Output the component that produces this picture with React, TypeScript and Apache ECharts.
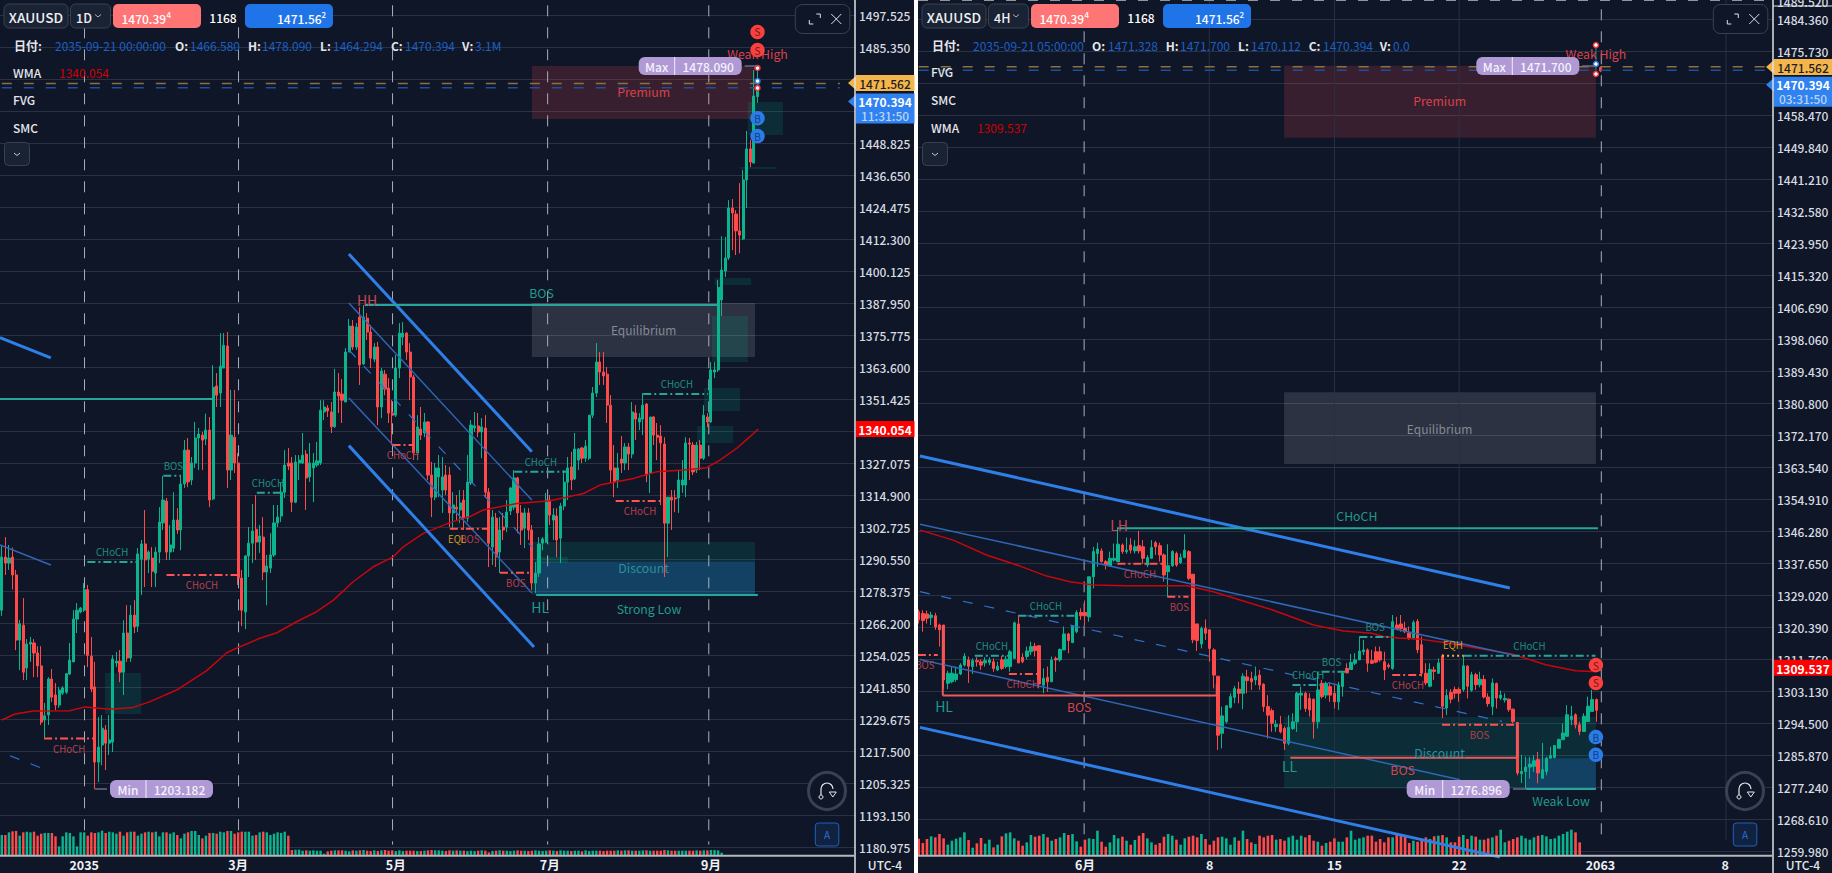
import React, { useEffect, useRef } from "react";
import * as echarts from "echarts";

// ---------- daily panel data: [open, close, low, high]
const dailyCandles: number[][] = [
[1271.2,1291.4,1269,1296],[1291.4,1289.1,1284.6,1299],[1289.1,1291,1286.5,1296],[1291.4,1284.6,1279,1295],[1284.6,1259.8,1256,1286.5],
[1259.8,1266,1248.4,1267.5],[1265.5,1247.6,1244.6,1275.8],[1249.2,1258.3,1244.6,1260.2],[1258.3,1259,1251.5,1261],[1258.7,1254.9,1245.7,1260.2],
[1254.9,1250,1245.7,1257.5],[1250,1228.6,1227.5,1257.5],[1229.4,1231,1222.5,1235.9],[1231.3,1245,1227.5,1245.7],[1245,1238.1,1236.2,1248.8],
[1238.9,1235.1,1233.2,1243.5],[1235.1,1240.8,1234,1242],[1239.6,1241.6,1238.9,1242.3],[1240,1247,1239.3,1247.3],[1246.9,1252.2,1246.5,1258.7],
[1251.5,1267.8,1251.5,1271.2],[1267.8,1271.2,1262.5,1273.9],[1270.5,1272,1270,1272.4],[1271.2,1279,1270.5,1281.5],[1279,1254,1249.5,1280.8],
[1253.7,1241.2,1240,1261],[1242,1213.4,1203.2,1251.5],[1213.4,1219.1,1205.8,1230.5],[1219.9,1226.3,1212.2,1231.3],[1225.6,1220.6,1210.4,1227.5],
[1220.6,1221.8,1216.1,1231.3],[1221,1252.6,1217.2,1254.1],[1251.1,1251.8,1249.5,1255.3],[1251.8,1247.6,1243.8,1256],[1247.6,1262.5,1238.9,1267.4],
[1262.5,1253,1251.5,1273.1],[1253,1269.3,1251.5,1273.1],[1269.3,1264.8,1262.5,1275],[1265.1,1292.6,1262.9,1294.8],[1290.6,1296.4,1277,1297.9],
[1296.4,1290.3,1280,1309.3],[1290.6,1293.3,1285.3,1294],[1291,1286,1280,1295.2],[1285.3,1293.3,1280,1295.2],[1293.3,1304.7,1289.1,1310.4],
[1304.4,1313.1,1301.7,1322.2],[1312.7,1293.3,1290.3,1313.9],[1293.3,1296,1290.3,1303.6],[1294.8,1305.5,1293.3,1316.1],[1305.5,1301.7,1300.2,1310],
[1301.7,1319.2,1294,1322.6],[1319.2,1332.1,1317.7,1335.9],[1332.1,1320,1318,1336.7],[1320.7,1327.2,1318.8,1329.5],[1327.2,1336.7,1325.3,1342.8],
[1336.7,1338.2,1324.5,1340.5],[1337.8,1335.9,1324.5,1339],[1336.3,1339.7,1334,1346],[1339.7,1313.1,1310.4,1344.7],[1313.5,1356,1313.1,1364.4],
[1356.5,1353,1348.5,1361.4],[1353.8,1364,1348.5,1376.6],[1363.3,1372,1363.3,1376.6],[1371.7,1324.5,1317.7,1377],[1324.5,1337.8,1320.7,1355],
[1337,1327.2,1323.4,1355],[1327.2,1283.4,1280.8,1331],[1283.4,1271.2,1265.1,1286.5],[1270.5,1291.8,1264,1292.2],[1291.8,1296.7,1283.8,1302.8],
[1296.7,1301.3,1289.1,1311.6],[1302,1297.1,1290.3,1315],[1297.1,1299.4,1293,1303.6],[1299,1285.7,1282.6,1306.6],[1285.7,1288,1273.1,1292.2],
[1287.2,1292.2,1285.3,1300.5],[1292.2,1304.4,1291.4,1311.2],[1304.4,1306.6,1302.8,1311.2],[1307,1316.1,1304.7,1319.6],[1316.1,1326.4,1313.9,1332.1],
[1327.2,1326,1324.5,1332.9],[1327.2,1312.3,1308.5,1329.5],[1312.3,1327.6,1311.9,1330.2],[1327.2,1328.3,1320.7,1330.2],[1327.2,1330.2,1326.8,1338.6],
[1330.6,1321.5,1309.3,1332.1],[1321.9,1327.2,1320,1334.8],[1325.3,1327.2,1312.3,1331],[1326.4,1328,1325.7,1335.2],[1327.2,1347.3,1326.4,1351.1],
[1346.6,1348.5,1343.5,1351.1],[1348.1,1347,1344.7,1349.2],[1346.6,1341,1338.6,1350.4],[1341,1354.2,1340.5,1363],[1354.2,1352.7,1346.2,1361.4],
[1353.4,1351.1,1342.4,1359.1],[1350.4,1369.4,1350.4,1370.9],[1369.4,1379.3,1369.4,1382],[1379.3,1371.3,1370.2,1381.6],[1371.3,1378.9,1370.2,1380.4],
[1382.7,1364.5,1356.9,1386.5],[1364.9,1382.7,1364.5,1387.3],[1382.3,1377,1374,1384.2],[1377,1367.1,1363.3,1379.7],[1366.7,1371.3,1365.6,1372.8],
[1371.3,1348.5,1341.6,1373.2],[1348.5,1362.2,1344.3,1363.3],[1361,1355.3,1353,1362.6],[1355.7,1346.2,1342.4,1359.5],[1346.2,1345.4,1334,1351.1],
[1345.4,1363.3,1344.7,1368.3],[1363.3,1376.6,1359.5,1380.4],[1375.1,1376.6,1372,1380.8],[1376.6,1369.4,1366.4,1377],[1369.4,1359.9,1351.1,1372.8],
[1359.9,1331,1328.3,1360.7],[1331,1340.9,1328.3,1345.4],[1340.1,1337.8,1335.9,1348.5],[1338.6,1342.8,1337,1346.2],[1342.8,1322.6,1320.7,1343.2],
[1322.6,1314.2,1306.6,1327.6],[1314.2,1325.3,1313.1,1327.2],[1321.9,1325.3,1314.2,1330.2],[1316.9,1321.9,1308.2,1329.5],[1322.6,1316.9,1315,1326.4],
[1322.6,1308.2,1302.8,1325.7],[1308.2,1311.2,1301.7,1316.1],[1310.4,1309.7,1305.5,1315],[1309.3,1312,1304.4,1316.9],[1313.1,1306.2,1301.7,1316.9],
[1306.2,1319.9,1304.7,1330.2],[1319.6,1341.6,1318.8,1343.5],[1340.5,1341.3,1339,1346.6],[1341.3,1339,1337,1346.2],[1339,1340.9,1329,1344.3],
[1340.5,1316.1,1313.9,1345.4],[1316.1,1296.7,1287.6,1317.7],[1295.2,1306.6,1288.4,1309.3],[1306.2,1291.4,1287.6,1308.2],[1293.3,1301.7,1285.3,1306.6],
[1302.8,1301.7,1297.9,1308.2],[1302.8,1308.5,1300.9,1313.1],[1308.9,1317.7,1307.4,1318],[1310.4,1321.5,1309.3,1324.5],[1321.5,1308.2,1300.5,1321.9],
[1308.2,1301.7,1296,1311.2],[1302.4,1308.2,1294.8,1310],[1308.2,1301.7,1297.9,1310],[1301.7,1281.5,1278.8,1303.6],[1281.5,1285.3,1277.7,1289.5],
[1285.3,1296.4,1283.8,1299],[1296.7,1298.3,1294,1299],[1297.1,1313.1,1296.7,1315.8],[1313.1,1307.4,1303.6,1315],[1305.5,1307.4,1297.9,1310],
[1307,1297.9,1291.4,1310],[1298.6,1310.8,1289.1,1312],[1310.8,1319.9,1309.3,1324.5],[1319.9,1325.3,1313.1,1329.5],[1325.7,1320.7,1316.9,1331.4],
[1321.1,1332.5,1320.7,1338.6],[1328.3,1332.5,1324.5,1332.9],[1332.9,1329,1327.2,1333.3],[1329,1333.6,1327.6,1335.9],[1329,1345.4,1328.3,1345.4],
[1345.4,1353.8,1344.3,1356.1],[1353.8,1365.6,1352.3,1372.8],[1365.6,1361.8,1356.9,1369.4],[1361.8,1360.3,1356.9,1369.4],[1361,1349.2,1342.4,1363.7],
[1349.2,1324.5,1319.6,1353],[1325.3,1319.9,1314.2,1334],[1320.7,1325.3,1317.7,1331],[1328.7,1327.2,1323.4,1337.4],[1327.2,1333.3,1324.5,1334.8],
[1333.3,1330.6,1324.5,1334.8],[1330.6,1346.6,1329,1350.4],[1346.2,1343.9,1335.9,1349.2],[1342.8,1344.3,1339.7,1346.2],[1343.9,1349.2,1337.8,1353.8],
[1349.6,1322.6,1319.9,1350],[1323.4,1344.7,1315.8,1344.7],[1344.7,1337.8,1334,1345],[1337.8,1337,1328.3,1342.4],[1337.4,1334.8,1311.2,1341.6],
[1334.4,1304.3,1283.8,1337],[1304.3,1314.2,1291.4,1314.2],[1314.2,1313.1,1301.7,1316.9],[1313.9,1313.5,1308.5,1316.9],[1313.9,1320.7,1308.2,1324.5],
[1318.8,1320.7,1315.8,1328.3],[1318.8,1334.8,1314.2,1337],[1334.8,1334.4,1320.7,1336.7],[1334,1323.8,1322.6,1335.2],[1324.5,1334,1323.4,1335.2],
[1334,1329,1324.5,1335.9],[1329,1345.4,1328.3,1349.2],[1344.7,1342.8,1340.9,1346.2],[1342.8,1362.6,1342.4,1365.6],[1361.8,1362.6,1359.5,1365.6],
[1362.6,1394.1,1361.8,1396.8],[1389.2,1400.6,1383.1,1413.5],[1400.2,1405.2,1398,1413.2],[1405.2,1424.2,1404.4,1427.2],[1424.2,1422.3,1408.2,1427.6],
[1421.9,1415.5,1406.3,1423.4],[1415.5,1413.9,1407,1433.7],[1412.4,1434.9,1412,1438.7],[1434.9,1446.7,1424.2,1453.5],[1446.7,1441.7,1439.8,1450.1],
[1441.3,1466.8,1441.3,1476.7],[1466.58,1470.394,1464.294,1478.09],
];
const dailyVolumes: number[] = [
62,62,70,73,74,60,70,72,70,72,60,66,68,68,68,58,28,58,70,68,58,28,70,70,60,70,68,70,75,68,72,70,66,72,60,70,72,72,60,66,
70,72,70,72,58,70,70,66,70,62,52,66,70,74,74,62,52,60,68,68,66,72,70,74,74,66,70,72,72,72,60,62,70,72,70,62,66,70,68,72,60,
17,18,18,15,16,15,16,15,15,6,13,15,16,16,16,15,13,16,15,16,17,15,14,16,14,16,17,15,16,14,16,14,15,15,15,14,14,15,16,17,
16,16,15,14,16,15,16,15,15,14,15,14,15,16,15,10,14,15,16,15,15,14,15,16,15,15,14,15,16,15,14,15,16,15,14,16,15,15,14,15,
15,13,16,14,15,15,15,14,15,15,15,16,15,16,16,15,15,15,16,16,15,15,15,15,17,16,15,15,15,15,15,15,15,16,15,16,16,17,17,16,9,
];
const dailyWma: number[][] = [
[0,1229.4],[3.7,1231.7],[8.8,1232.8],[19,1232.9],[23.2,1234.4],[25.6,1234.1],[30.2,1233.5],[36.7,1234.2],[41.4,1236.4],[48.8,1240.8],
[57.2,1248.2],[62.8,1255],[66.5,1257.3],[72.1,1260.5],[76.8,1262.6],[82.3,1266.8],[87.9,1270.6],[92.6,1275],[98.1,1282],[103.7,1287.7],
[109.3,1291.5],[112.1,1295.3],[117.7,1300.4],[125.1,1304.5],[130.7,1306.8],[134.4,1309.3],[143.8,1311.8],[153.1,1312.8],[162.4,1315.6],[167,1318.8],
[176.3,1321.3],[182.9,1323.9],[190.3,1324.5],[196.8,1325.4],[200.5,1328.3],[205.2,1332.8],[208.9,1337.2],[211.2,1340.1],
];
// [from bar, top price, to bar, bottom price]
const dailyPremium = [[148,1478.2,210.3,1458.1]];
const dailyEquilibrium = [[148,1388.1,210.3,1367.5]];
const dailyDiscount = [[148,1297.1,210.3,1277]];
const dailyDiscountBlue = [[149.2,1289.6,210.3,1277]];
const dailyFvg = [[28.8,1247.3,38.9,1231.7],[198.3,1383.1,208.3,1365.6],[196.1,1355.7,206.1,1347],[194.1,1341.3,204.2,1334.8],[149.2,1291.4,158.1,1289.1],[208.3,1464.5,218.1,1452],[199.1,1397.6,209.2,1394.9],[206.1,1439.8,216.2,1439]];
// [from bar, from price, to bar, to price]
const dailyTealSolid = [[-0.5,1351.5,59,1351.5],[101.4,1387.3,200,1387.3],[149.2,1277,211.1,1277]];
const dailyChannelThick = [[-0.5,1374.9,13.7,1367.2],[96.9,1406.7,148,1331.5],[96.9,1333.8,148.6,1257.2]];
const dailyChannelThin = [[96.9,1388.1,148,1313.1],[96.9,1351.9,148,1277.7],[-0.5,1296,13.7,1288.4]];
const dailyChannelDash = [[96.9,1370.2,148,1295.3],[2.3,1215.8,10.9,1211.2]];
const dailyTealDash = [[23.9,1289.5,37.7,1289.5],[45.1,1322.3,50,1322.3],[71.2,1315.9,78.5,1315.9],[143.1,1323.9,157.8,1323.9],[179.1,1353.4,197.2,1353.4]];
const dailyRedDash = [[46,1284.6,66,1284.6],[11.8,1222.4,25.5,1222.4],[109.1,1334,115.1,1334],[125.1,1302.2,136.3,1302.2],[139.1,1285.4,148,1285.4],[171.4,1312.7,185.2,1312.7]];
const dailyOrangeDash: number[][] = [];
const dailyRedSolid: number[][] = [];
const dailyTealSmall: any[][] = [[30.8,1293.3,"CHoCH"],[47.9,1326,"BOS"],[74.3,1319.6,"CHoCH"],[150.5,1327.6,"CHoCH"],[188.5,1357.2,"CHoCH"]];
const dailyRedSmall: any[][] = [[55.9,1280.8,"CHoCH"],[18.8,1218.5,"CHoCH"],[112,1330.2,"CHoCH"],[130.7,1298.4,"BOS"],[143.5,1281.5,"BOS"],[178.2,1308.9,"CHoCH"]];
const dailyOrangeSmall: any[][] = [[127.1,1298.4,"EQL"]];
const dailyRedBig: any[][] = [[179.2,1468.3,"Premium"],[211,1482.8,"Weak High"]];
const dailyRedPivot: any[][] = [[102,1389.2,"HH"]];
const dailyTealBig: any[][] = [[150.7,1392,"BOS"],[180.7,1271.6,"Strong Low"]];
const dailyTealPivot: any[][] = [[150.3,1272.4,"HL"]];
const dailyZoneLabels: any[][] = [[179.2,1377.8,"Equilibrium"]];
const dailyDiscountLabels: any[][] = [[179.2,1287.2,"Discount"]];
const dailySells = [[211,1491.2],[211,1484.3]];
const dailyBuys = [[211,1458.4],[211,1451.6]];
const dailyRedDots = [[211,1477.5],[211,1469.9]];
const dailyBlueDots = [[211,1472.5]];
const dailyDashBars = [23.1,66.1,109.1,152.4,197.4];
const dailySolidBars: number[] = [];
const dailyTicks: Record<number,string> = { 23:"2035", 66:"3月", 110:"5月", 153:"7月", 198:"9月" };

// ---------- 4H panel data: [open, close, low, high]
const h4Candles: number[][] = [
[1324.6,1322.4,1321.4,1325.2],[1324.1,1322.2,1319.2,1325],[1324,1322.8,1321.4,1324.9],[1323,1323.7,1321,1324.6],[1323.5,1320.5,1319.7,1324.3],
[1321,1319.7,1315.2,1321.4],[1321,1306.2,1303.9,1321],[1305.3,1308,1303.7,1308.7],[1305.7,1308,1305.3,1309.8],[1306.3,1307.8,1305.7,1309.8],
[1307.8,1310.2,1307.5,1310.7],[1310.2,1312.6,1309.8,1313.4],[1311.6,1309.9,1305.4,1312.5],[1309.8,1311.4,1307.8,1312],[1311.4,1311.1,1309.8,1312.3],
[1311.1,1310.2,1308.9,1311.7],[1310.8,1311.4,1309.8,1312.3],[1310.9,1311.6,1310.2,1312.3],[1311.1,1309.3,1308.4,1312],[1308.9,1309.9,1308.6,1311.1],
[1311.6,1309.3,1308.9,1312.6],[1309.8,1311.8,1309.3,1312.7],[1309.8,1313.8,1308.4,1314.3],[1312,1321.6,1312,1321.9],[1321.3,1310.8,1310.7,1323.7],
[1312.3,1311.1,1310.7,1313.4],[1312.5,1314,1311.7,1315.2],[1313.8,1315.2,1312.9,1316.5],[1315.3,1314.1,1312.5,1316.2],[1315.4,1305.1,1303.9,1315.6],
[1304.8,1306.6,1302.6,1309.3],[1306.9,1305.7,1303,1309.8],[1305.7,1311.6,1305.7,1312.5],[1312,1311.6,1308.4,1312.5],[1311.6,1314.4,1311.1,1314.7],
[1314.3,1318.6,1314.3,1320.6],[1318.6,1316.8,1313.4,1318.9],[1316.3,1320.6,1316.1,1321],[1319.2,1324.4,1318.8,1325],[1324.4,1323.5,1322.4,1325.5],
[1324.4,1323.5,1321,1327.6],[1323.2,1334,1321.9,1334],[1334,1340.8,1330.9,1342.1],[1340.3,1341.5,1336.7,1343.2],[1341,1338.1,1337.9,1341.7],
[1338.1,1337.2,1336,1338.5],[1336.9,1339,1336.7,1340.8],[1338.5,1339,1338.1,1343],[1338.1,1342.8,1338.1,1347.1],[1342.6,1340.8,1340.2,1343],
[1340.8,1341.2,1340.2,1344.6],[1342.6,1341.2,1340.3,1344.4],[1341,1342.1,1340.3,1343.9],[1342.4,1341,1340.3,1346.4],[1342.1,1339,1337.5,1343.9],
[1337.2,1339.2,1336.6,1339.9],[1339,1341.9,1339,1343.9],[1343.2,1342.1,1339.9,1343.7],[1342.4,1339.9,1338.1,1343.2],[1339.9,1334.5,1332.7,1340.3],
[1335.4,1337,1328.6,1342.8],[1337,1340.8,1336.7,1341.2],[1340.3,1337.2,1336.7,1340.8],[1337.8,1339.2,1337.5,1340.3],[1339.2,1341.2,1339,1345.5],
[1340.8,1333.6,1333.1,1341.2],[1334.7,1317,1316.1,1334.7],[1321.3,1316.8,1314,1321.3],[1315.9,1320.1,1314.7,1320.6],[1320.1,1318.8,1317,1322.5],
[1319.7,1314.7,1311.1,1319.8],[1314.3,1307.5,1303.9,1314.7],[1307.2,1291.3,1287.3,1307.2],[1291.8,1296.5,1287.7,1299],[1294.9,1299.2,1294.5,1299.4],
[1298.8,1301.7,1298.5,1302.6],[1301.5,1303.9,1299.9,1304.6],[1303.7,1302.6,1299.9,1305.7],[1302.6,1307.2,1298.3,1308],[1307,1306,1302.6,1308.9],
[1306.6,1305.7,1303.5,1308.4],[1306.2,1307.2,1304.8,1309.8],[1307.5,1304.8,1303.5,1308.9],[1305,1299,1297.6,1305.3],[1299,1296.7,1290.4,1302.1],
[1297.9,1294.5,1292.2,1298.5],[1293.6,1294.2,1292.2,1295.4],[1294.2,1292.2,1291.8,1296.5],[1293.1,1289.1,1287.3,1293.6],[1289.1,1293.4,1288.6,1296.7],
[1293.1,1294.9,1292.7,1297.2],[1294.9,1302.6,1292.2,1303],[1302.1,1302.6,1298.1,1304.4],[1302.6,1298.5,1297.6,1303],[1301.2,1298.1,1296.3,1302.6],
[1301,1294.9,1290.4,1301.2],[1294.9,1303.5,1293.1,1308.4],[1305.3,1301.7,1301.2,1306.2],[1302.1,1305.3,1301.2,1305.7],[1304.4,1302.1,1300.3,1305.3],
[1302.6,1300.3,1298.5,1304.8],[1300.3,1304.8,1298.1,1305.7],[1304.4,1308,1301.7,1308.4],[1309.3,1308.1,1308,1310.7],[1309,1310.9,1308.9,1313.2],
[1310.7,1311.6,1310.2,1313.4],[1311.6,1314,1311.6,1317.9],[1313.8,1314.3,1312.9,1317],[1314.3,1310.7,1308.4,1314.7],[1311.4,1310.7,1310.5,1314.3],
[1313.8,1311,1310.7,1315.2],[1313.8,1311.6,1311.1,1315.2],[1311.1,1308.9,1306.2,1313.8],[1310.2,1309.8,1309.3,1310.7],[1309.3,1321.9,1308.9,1323.7],
[1321,1320.1,1319.7,1323.2],[1321.3,1320.1,1319.2,1323.7],[1320.1,1319.2,1318.8,1321.9],[1318.8,1317.4,1317,1320.6],[1317.5,1321.7,1317.1,1322.3],
[1322,1314.3,1313.4,1322.6],[1315.7,1308,1307.1,1317.9],[1308,1305.4,1304.8,1310.7],[1304.5,1309,1304.2,1310.7],[1308.9,1308.5,1306.2,1309.8],
[1308,1310.8,1307.8,1312],[1312.7,1299.1,1295.9,1313.2],[1298.6,1302,1296.7,1303.7],[1302.8,1301,1299.9,1303.7],[1303.6,1302.6,1301.2,1304.4],
[1303.6,1302.6,1300.3,1304.2],[1303.6,1310,1303,1312.7],[1309.9,1304.5,1301.2,1310.2],[1303.4,1307.6,1303,1308.4],[1307.6,1304.9,1303.5,1308.1],
[1304.9,1306.4,1304.2,1308.4],[1306.3,1301.6,1301.2,1307.5],[1301.6,1299.8,1299,1302.6],[1299,1305.4,1296.7,1306.6],[1305.2,1301.3,1298.5,1305.5],
[1301.3,1302.1,1300.8,1303.3],[1300.8,1301.2,1300.1,1302.6],[1301,1298.2,1297.6,1301.2],[1298.3,1295,1294.5,1298.5],[1294.7,1281.1,1280.5,1294.7],
[1280.9,1281.5,1278.4,1286],[1281.5,1282.7,1276.9,1285.5],[1282.7,1283.5,1279.6,1285.5],[1282.9,1284.4,1281.4,1285.9],[1284.7,1281.1,1278.3,1286.8],
[1279.7,1282,1279.6,1289.2],[1281.5,1285.1,1280.5,1285.5],[1285.1,1285.8,1285,1288.2],[1285.3,1288.5,1285,1288.6],[1287.8,1290.1,1287.7,1290.4],
[1290.1,1291.9,1290,1294.5],[1291,1296.8,1290.9,1299.4],[1295.5,1296.4,1294,1299.2],[1296.8,1294.1,1293.1,1297.2],[1294.1,1292.3,1291.3,1294.9],
[1292.3,1296.4,1292.2,1297.2],[1295,1299.1,1294.9,1301.7],[1297.7,1300.9,1297.6,1303.5],[1300.9,1298,1294.9,1301.2],[1471.328,1470.394,1470.112,1471.7],
];
const h4Volumes: number[] = [
51,38,50,58,55,65,52,33,45,51,55,70,47,24,37,53,36,48,25,33,58,67,70,52,45,30,40,62,57,60,65,55,45,50,55,68,62,65,43,27,
48,52,50,75,42,27,40,62,52,57,45,33,47,60,68,52,40,33,38,57,65,60,48,33,52,57,60,55,65,50,33,45,55,57,52,33,55,45,75,50,
40,35,60,55,60,62,48,50,45,55,60,48,60,55,62,45,42,30,38,42,52,42,42,55,75,48,52,55,60,60,42,50,40,55,55,62,60,58,38,45,
42,50,55,50,58,60,62,55,40,40,57,62,50,60,57,48,48,52,55,60,78,40,45,50,55,60,52,48,55,60,62,58,50,52,60,65,72,78,70,40,0,
];
const h4Wma: number[][] = [
[0.3,1346.6],[8.3,1343.9],[16.3,1339.9],[24.4,1336.9],[30.8,1334.2],[36.4,1332.7],[42,1331.8],[50,1331.6],[64.5,1331.6],[70.9,1330],
[76.5,1328],[85.3,1325],[95,1321],[102.2,1319.4],[109,1318.8],[111.8,1317.9],[115.5,1317.5],[120.6,1317.2],[126.7,1316.2],[142.7,1313.2],
[150.8,1310.3],[158,1308.7],[163.2,1308.4],
];
const h4Premium = [[87.9,1471.8,162.9,1452.4]];
const h4Equilibrium = [[87.9,1383.8,162.9,1364.4]];
const h4Discount = [[87.9,1296.2,162.9,1276.9]];
const h4DiscountBlue = [[146.1,1285.1,162.9,1276.9]];
const h4Fvg: number[][] = [];
const h4TealSolid = [[47.7,1347.1,163.4,1347.1],[146.1,1276.8,162.9,1276.8]];
const h4RedSolid = [[5.8,1320.9,5.8,1302],[5.8,1302,71.7,1302],[71.7,1302,71.7,1305],[89.4,1285.2,143.9,1285.2],[143.9,1285.2,143.9,1294.7]];
const h4ChannelThick = [[0.3,1366.6,142.2,1331],[0.3,1293.4,139.8,1258.4]];
const h4ChannelThin = [[0.3,1348.2,142.7,1313],[0.3,1311.7,130.2,1279.3]];
const h4ChannelDash = [[0.3,1330,140.3,1295]];
const h4TealDash = [[24,1323.5,37.6,1323.5],[13.5,1312.7,21.6,1312.7],[89.9,1304.8,96.9,1304.8],[96.9,1308.4,103,1308.4],[106,1317.8,113.9,1317.8],[131.1,1312.7,162.8,1312.7]];
const h4RedDash = [[21.7,1307.8,28.8,1307.8],[-0.2,1312.9,4.6,1312.9],[47.8,1337.5,58.8,1337.5],[59.8,1328.6,64.9,1328.6],[113.9,1307.5,121.1,1307.5],[125.9,1294.1,143.9,1294.1]];
const h4OrangeDash = [[125.9,1312.7,131.1,1312.7]];
const h4TealSmall: any[][] = [[30.6,1326.2,"CHoCH"],[17.6,1315.4,"CHoCH"],[93.7,1307.5,"CHoCH"],[99.3,1311.1,"BOS"],[109.8,1320.5,"BOS"],[146.9,1315.4,"CHoCH"]];
const h4RedSmall: any[][] = [[25,1305.1,"CHoCH"],[1.5,1310.2,"BOS"],[53.2,1334.8,"CHoCH"],[62.7,1325.9,"BOS"],[117.7,1304.8,"CHoCH"],[134.9,1291.4,"BOS"]];
const h4OrangeSmall: any[][] = [[128.5,1315.6,"EQH"]];
const h4RedBig: any[][] = [[125.3,1462.2,"Premium"],[162.9,1475,"Weak High"],[38.6,1298.9,"BOS"],[116.4,1282,"BOS"]];
const h4RedPivot: any[][] = [[48.2,1348,"LH"]];
const h4TealBig: any[][] = [[105.4,1350.5,"CHoCH"],[154.5,1273.6,"Weak Low"]];
const h4TealPivot: any[][] = [[6.1,1299.2,"HL"],[89.2,1283,"LL"]];
const h4ZoneLabels: any[][] = [[125.3,1374.1,"Equilibrium"]];
const h4DiscountLabels: any[][] = [[125.3,1286.5,"Discount"]];
const h4Sells = [[162.9,1310.2],[162.9,1305.4]];
const h4Buys = [[162.9,1290.8],[162.9,1286]];
const h4RedDots = [[162.9,1477.4],[162.9,1469.6]];
const h4BlueDots = [[162.9,1472.3]];
const h4SignalStem = [[162.9,1477.4,162.9,1469.6]];
const h4DashBars = [39.8,164.2];
const h4SolidBars = [69.9,100,130,194.2];
const h4Ticks: Record<number,string> = { 40:"6月", 70:"8", 100:"15", 130:"22", 164:"2063", 194:"8" };

const dailyAxis = { min: 1168.8, max: 1509.7, interval: 12.175 };
const h4Axis = { min: 1251.35, max: 1492.99, interval: 8.63 };
const askPrice = 1471.562;
const bidPrice = 1470.394;

const BG = "#0f1628";
const GRID = "#2a3142";
const UP = "#0bb48d";
const DOWN = "#ff4a4a";
const TEAL = "#26a69a";
const FONT = "'Noto Sans CJK SC','Noto Sans',sans-serif";

const segs = (rows: number[][], base: any, x: number, y: number, z = 5) =>
  rows.map((r) => ({
    type: "line", xAxisIndex: x, yAxisIndex: y, data: [[r[0], r[1]], [r[2], r[3]]],
    showSymbol: false, silent: true, z, lineStyle: base, animation: false,
  }));
const rects = (rows: number[][], fill: string, x: number, y: number, z = 1) => ({
  type: "custom", xAxisIndex: x, yAxisIndex: y, silent: true, z,
  encode: { x: [0, 2], y: [1, 3] }, data: rows,
  renderItem: (_: any, api: any) => {
    const a = api.coord([api.value(0), api.value(1)]);
    const b = api.coord([api.value(2), api.value(3)]);
    return { type: "rect", shape: { x: a[0], y: a[1], width: b[0] - a[0], height: b[1] - a[1] }, style: { fill } };
  },
});
const labels = (rows: any[][], color: string, size: number, x: number, y: number) => ({
  type: "scatter", xAxisIndex: x, yAxisIndex: y, symbolSize: 1, silent: true, z: 7, clip: false,
  itemStyle: { color: "transparent", opacity: 1 }, data: rows,
  label: { show: true, position: "inside", formatter: (p: any) => p.value[2], color, opacity: 1, fontSize: size, fontFamily: FONT },
  labelLayout: { hideOverlap: false },
});
const marks = (rows: number[][], color: string, text: string, ink: string, x: number, y: number) => ({
  type: "scatter", xAxisIndex: x, yAxisIndex: y, symbol: "circle", symbolSize: 14.5, silent: true, z: 8,
  itemStyle: { color, opacity: 1 }, data: rows,
  label: { show: true, position: "inside", formatter: text, color: ink, opacity: 1, fontSize: 10, fontFamily: FONT },
});
const dots = (rows: number[][], color: string, x: number, y: number) => ({
  type: "scatter", xAxisIndex: x, yAxisIndex: y, symbolSize: 5, silent: true, z: 9,
  itemStyle: { color: "#fff", borderColor: color, borderWidth: 1.5, opacity: 1 }, data: rows,
});

function panel(d: any, cat: number, over: number, volX: number, py: number, volY: number) {
  const volumeData = d.volumes.map((v: number, i: number) => ({
    value: v,
    itemStyle: { color: d.candles[i] && d.candles[i][1] >= d.candles[i][0] ? UP : DOWN },
  }));
  const vert = (bars: number[], top: number, bottom: number) => bars.map((b) => [b, top, b, bottom]);
  return [
    ...segs(vert(d.dash, d.axis.max, d.dashEnd), { color: "#a9aeb8", width: 1, type: [11, 11] }, over, py, 1),
    ...segs(vert(d.solid, d.axis.max, d.dashEnd), { color: GRID, width: 1 }, over, py, 1),
    rects(d.premium, "rgba(220,70,75,0.2)", over, py),
    rects(d.equilibrium, "rgba(255,255,255,0.12)", over, py),
    rects(d.discount, "rgba(0,170,140,0.16)", over, py),
    rects(d.discountBlue, "rgba(35,120,215,0.28)", over, py),
    rects(d.fvg, "rgba(0,180,140,0.15)", over, py),
    {
      type: "candlestick", xAxisIndex: cat, yAxisIndex: py, data: d.candles, barWidth: d.barWidth, z: 3, silent: true,
      itemStyle: { color: UP, color0: DOWN, borderColor: UP, borderColor0: DOWN, borderWidth: 1 },
    },
    {
      type: "line", xAxisIndex: over, yAxisIndex: py, data: d.wma, showSymbol: false, silent: true, z: 4,
      lineStyle: { color: "#c8060c", width: 1.5 },
    },
    ...segs([[0, askPrice, d.last, askPrice]], { color: "#8d713c", width: 1.5, type: [10, 12] }, over, py, 4),
    ...segs([[0, bidPrice + d.bidShift, d.last, bidPrice + d.bidShift]], { color: "#1f4f96", width: 1.5, type: [10, 12] }, over, py, 4),
    ...segs(d.thick, { color: "#2f7fe8", width: 3 }, over, py),
    ...segs(d.thin, { color: "#2f66b5", width: 1.5 }, over, py),
    ...segs(d.chanDash, { color: "#2f72cc", width: 1.2, type: [10, 12] }, over, py),
    ...segs(d.tealSolid, { color: TEAL, width: 2 }, over, py),
    ...segs(d.redSolid, { color: "#ee5a5a", width: 2 }, over, py),
    ...segs(d.tealDash, { color: TEAL, width: 2, type: [8, 3, 2, 3] }, over, py),
    ...segs(d.redDash, { color: "#ff5252", width: 2, type: [8, 3, 2, 3] }, over, py),
    ...segs(d.orangeDash, { color: "#f0b040", width: 2, type: [2, 3] }, over, py),
    ...segs(d.stem, { color: "#0d6d5a", width: 1.5 }, over, py, 6),
    labels(d.tealSmall, "#1f8f82", 9.7, over, py),
    labels(d.redSmall, "#b8404a", 9.7, over, py),
    labels(d.orangeSmall, "#d99a20", 9.7, over, py),
    labels(d.redBig, "#d9424a", 12.3, over, py),
    labels(d.tealBig, "#1f9a8c", 12.3, over, py),
    labels(d.redPivot, "#c84850", 14, over, py),
    labels(d.tealPivot, "#1f9a8c", 14, over, py),
    labels(d.zones, "#858a96", 12, over, py),
    labels(d.discountText, "#2a8f9c", 12.3, over, py),
    marks(d.sells, "#f8403e", "S", "#7a1515", over, py),
    marks(d.buys, "#2b7ce9", "B", "#0f3f80", over, py),
    dots(d.redDots, "#f5303a", over, py),
    dots(d.blueDots, "#2b7ce9", over, py),
    {
      type: "bar", xAxisIndex: volX, yAxisIndex: volY, data: volumeData, barWidth: d.volWidth, silent: true, z: 2,
    },
  ];
}

const txt = (text: string, x: number, y: number, fill: string, fontSize = 12, fontWeight: any = 400, textAlign = "left") => ({
  type: "text", z: 100, silent: true,
  style: { text, x, y, fill, fontSize, fontWeight, fontFamily: FONT, textAlign, textVerticalAlign: "middle" },
});
const box = (x: number, y: number, width: number, height: number, fill: string, stroke?: string, r = 3) => ({
  type: "rect", z: 99, silent: true, shape: { x, y, width, height, r }, style: { fill, stroke: stroke || "none", lineWidth: 1 },
});
const seg = (x1: number, y1: number, x2: number, y2: number, stroke: string, lineWidth = 1) => ({
  type: "line", z: 100, silent: true, shape: { x1, y1, x2, y2 }, style: { stroke, lineWidth },
});
const tag = (x: number, y: number, w: number, h: number, fill: string, cy: number) => ({
  type: "polygon", z: 99, silent: true,
  shape: { points: [[x - 8, cy], [x, cy - 7], [x, y], [x + w, y], [x + w, y + h], [x, y + h], [x, cy + 7]] }, style: { fill },
});

function ui(o: any) {
  const { off, tf, rows, date, ohlc, wmaY, fvgY, smcY, wmaVal, btnY, ax, ask, bid, bidH, wmaTag, timer, iconX, maxTag, minTag } = o;
  const els: any[] = [
    box(off + 4, 4, 64, 24, "#1a2333", "#38424f", 5),
    txt("XAUUSD", off + 36, 17, "#eef0f4", 13.7, 500, "center"),
    box(off + 70.5, 4, 40, 24, "#1a2333", "#38424f", 5),
    txt(tf, off + 76, 17, "#eef0f4", 12.5, 500),
    seg(off + 95, 14.5, off + 98, 17, "#aab0ba"), seg(off + 98, 17, off + 101, 14.5, "#aab0ba"),
    box(off + 113, 4, 88, 24, "#ff7474", undefined, 5),
    box(off + 245, 4, 88, 24, "#1f74e8", undefined, 5),
    box(off + 201.5, 5, 43.5, 22, "#0f1628", undefined, 0),
    txt("1470.39", off + 121.5, 18, "#fff", 12, 500),
    txt("4", off + 166.5, 14.5, "#fff", 8, 500),
    txt("1168", off + 223, 17.5, "#fff", 12, 500, "center"),
    txt("1471.56", off + 277, 18, "#fff", 12, 500),
    txt("2", off + 321.5, 14.5, "#fff", 8, 500),
    txt("日付:", off + 14, 45.5, "#e4e6ea", 12, 700),
    txt(date, off + 55, 45.5, "#1c60c4", 12),
    ...rows.map((r: any) => txt(r[0], off + r[1], 45.5, "#e4e6ea", 12, 700)),
    ...ohlc.map((r: any) => txt(r[0], off + r[1], 45.5, "#1c60c4", 12)),
    txt("WMA", off + 13, wmaY, "#e4e6ea", 12, 500),
    txt(wmaVal, off + 59, wmaY, "#d00000", 12),
    txt("FVG", off + 13, fvgY, "#e4e6ea", 12, 500),
    txt("SMC", off + 13, smcY, "#e4e6ea", 12, 500),
    box(off + 4.5, btnY, 25, 23, "#1a2333", "#38424f", 4),
    seg(off + 14, btnY + 10.5, off + 17, btnY + 13, "#c5c9d0"), seg(off + 17, btnY + 13, off + 20, btnY + 10.5, "#c5c9d0"),
    // expand / close
    box(iconX, 4.5, 54.5, 29, BG, "#38424f", 7),
    seg(iconX + 14, 24, iconX + 14, 20, "#e0e3e8"), seg(iconX + 14, 24, iconX + 18, 24, "#e0e3e8"),
    seg(iconX + 25, 14, iconX + 25, 18, "#e0e3e8"), seg(iconX + 21, 14, iconX + 25, 14, "#e0e3e8"),
    seg(iconX + 36, 14, iconX + 46, 24, "#e0e3e8"), seg(iconX + 46, 14, iconX + 36, 24, "#e0e3e8"),
    // replay button
    { type: "circle", z: 99, silent: true, shape: { cx: iconX + 31.7, cy: 791, r: 18.5 }, style: { fill: BG, stroke: "#394253", lineWidth: 3 } },
    { type: "arc", z: 100, silent: true, shape: { cx: iconX + 31.7, cy: 789, r: 6, startAngle: Math.PI, endAngle: 0 }, style: { stroke: "#e6e8ec", fill: "none", lineWidth: 1.2 } },
    seg(iconX + 25.7, 789, iconX + 25.7, 795, "#e6e8ec", 1.2),
    { type: "circle", z: 100, silent: true, shape: { cx: iconX + 25.7, cy: 797, r: 2 }, style: { fill: BG, stroke: "#e6e8ec", lineWidth: 1 } },
    { type: "polygon", z: 100, silent: true, shape: { points: [[iconX + 34, 792], [iconX + 41, 792], [iconX + 37.5, 797]] }, style: { fill: BG, stroke: "#e6e8ec", lineWidth: 1 } },
    box(iconX + 20, 823, 23.5, 23, "rgba(25,70,140,0.25)", "#1f5fbf", 3),
    txt("A", iconX + 31.7, 834.5, "#2a6fd0", 10, 400, "center"),
    // axis furniture
    seg(ax, 0, ax, 873, "#dfe2e6", 1.5),
    seg(off, 855.7, ax, 855.7, "#b4b7bc", 2),
    txt("UTC-4", ax + 30, 864.5, "#e4e6ea", 12, 500, "center"),
    tag(ax + 1, ask, 58.5, 16, "#f4b64c", ask + 8),
    txt("1471.562", ax + 30, ask + 8.5, "#1d1d1d", 12, 500, "center"),
    tag(ax + 1, bid, 58.5, bidH, "#2f82f0", bid + 8),
    txt("1470.394", ax + 30, bid + 8, "#ffffff", 12, 700, "center"),
    txt(timer, ax + 30, bid + 22, "#b9d4f8", 12, 500, "center"),
    box(ax + 1, wmaTag, 58.5, 16, "#ff0000", undefined, 0),
    txt(wmaVal, ax + 30, wmaTag + 8.5, "#fff", 12, 700, "center"),
    // max / min tags
    box(maxTag[0], 57, 103, 18, "#b09ad6", undefined, 6),
    seg(maxTag[0] + 36, 57, maxTag[0] + 36, 75, "#f2eef9"),
    txt("Max", maxTag[0] + 18, 66.5, "#f4f2fa", 12, 500, "center"),
    txt(maxTag[1], maxTag[0] + 69.5, 66.5, "#f4f2fa", 12, 500, "center"),
    seg(maxTag[0] + 106, 66, maxTag[0] + 119, 66, "#6d6a88", 1.5),
    box(minTag[0], 780, 103, 18, "#b09ad6", undefined, 6),
    seg(minTag[0] + 36, 780, minTag[0] + 36, 798, "#f2eef9"),
    txt("Min", minTag[0] + 18, 789.5, "#f4f2fa", 12, 500, "center"),
    txt(minTag[1], minTag[0] + 69.5, 789.5, "#f4f2fa", 12, 500, "center"),
    seg(minTag[2], 789, minTag[3], 789, "#6d6a88", 1.5),
  ];
  return els;
}

export default function App() {
  const ref = useRef<HTMLDivElement>(null);
  useEffect(() => {
    if (!ref.current) return;
    const chart = echarts.init(ref.current, undefined, { renderer: "svg" });

    const daily = {
      candles: dailyCandles, volumes: dailyVolumes, wma: dailyWma, axis: dailyAxis, barWidth: 2.6, volWidth: 2.4,
      dash: dailyDashBars, solid: dailySolidBars, dashEnd: 1182, last: 234, bidShift: -0.4,
      premium: dailyPremium, equilibrium: dailyEquilibrium, discount: dailyDiscount, discountBlue: dailyDiscountBlue, fvg: dailyFvg,
      thick: dailyChannelThick, thin: dailyChannelThin, chanDash: dailyChannelDash, tealSolid: dailyTealSolid, redSolid: dailyRedSolid,
      tealDash: dailyTealDash, redDash: dailyRedDash, orangeDash: dailyOrangeDash, stem: [],
      tealSmall: dailyTealSmall, redSmall: dailyRedSmall, orangeSmall: dailyOrangeSmall, redBig: dailyRedBig, tealBig: dailyTealBig,
      redPivot: dailyRedPivot, tealPivot: dailyTealPivot,
      zones: dailyZoneLabels, discountText: dailyDiscountLabels, sells: dailySells, buys: dailyBuys, redDots: dailyRedDots, blueDots: dailyBlueDots,
    };
    const h4 = {
      candles: h4Candles, volumes: h4Volumes, wma: h4Wma, axis: h4Axis, barWidth: 3, volWidth: 2.6,
      dash: h4DashBars, solid: h4SolidBars, dashEnd: 1263, last: 203.5, bidShift: 0.2,
      premium: h4Premium, equilibrium: h4Equilibrium, discount: h4Discount, discountBlue: h4DiscountBlue, fvg: h4Fvg,
      thick: h4ChannelThick, thin: h4ChannelThin, chanDash: h4ChannelDash, tealSolid: h4TealSolid, redSolid: h4RedSolid,
      tealDash: h4TealDash, redDash: h4RedDash, orangeDash: h4OrangeDash, stem: h4SignalStem,
      tealSmall: h4TealSmall, redSmall: h4RedSmall, orangeSmall: h4OrangeSmall, redBig: h4RedBig, tealBig: h4TealBig,
      redPivot: h4RedPivot, tealPivot: h4TealPivot,
      zones: h4ZoneLabels, discountText: h4DiscountLabels, sells: h4Sells, buys: h4Buys, redDots: h4RedDots, blueDots: h4BlueDots,
    };

    const catAxis = (n: number, gridIndex: number, ticks: Record<number, string> | null) => ({
      type: "category", gridIndex, boundaryGap: true,
      data: Array.from({ length: n }, (_, i) => String(i)),
      axisLine: { show: false }, axisTick: { show: false }, splitLine: { show: false },
      axisLabel: ticks
        ? {
            show: true, interval: (i: number) => ticks[i] !== undefined, formatter: (_: string, i: number) => ticks[i] || "",
            color: "#f0f1f4", fontSize: 12.5, fontWeight: 700, fontFamily: FONT, margin: 3, hideOverlap: false,
          }
        : { show: false },
    });
    const idxAxis = (n: number, gridIndex: number) => ({
      type: "value", gridIndex, min: -0.5, max: n - 0.5, show: false, splitLine: { show: false },
    });
    const priceAxis = (a: any, gridIndex: number, margin: number) => ({
      type: "value", gridIndex, position: "right", min: a.min, max: a.max, interval: a.interval, scale: true,
      axisLine: { show: false }, axisTick: { show: false },
      splitLine: { show: true, lineStyle: { color: GRID, width: 1 } },
      axisLabel: {
        show: true, inside: false, margin, color: "#d8dbe0", fontSize: 12, fontWeight: 500, fontFamily: FONT,
        showMinLabel: false, showMaxLabel: false, formatter: (v: number) => v.toFixed(3),
      },
    });
    const volAxis = (gridIndex: number) => ({ type: "value", gridIndex, min: 0, max: 107, show: false, splitLine: { show: false } });

    const CD = 239;
    const CH = 206;
    chart.setOption({
      animation: false,
      backgroundColor: BG,
      grid: [
        { left: 0, top: -16.7, width: 856, height: 896, outerBoundsMode: "none" },
        { left: 0, top: 820, width: 856, height: 35.7, outerBoundsMode: "none" },
        { left: 916.6, top: -12.7, width: 856.4, height: 896, outerBoundsMode: "none" },
        { left: 916.6, top: 820, width: 856.4, height: 35.7, outerBoundsMode: "none" },
      ],
      xAxis: [
        catAxis(CD, 0, null), idxAxis(CD, 0), catAxis(CD, 1, dailyTicks),
        catAxis(CH, 2, null), idxAxis(CH, 2), catAxis(CH, 3, h4Ticks),
      ],
      yAxis: [priceAxis(dailyAxis, 0, 3), volAxis(1), priceAxis(h4Axis, 2, 4), volAxis(3)],
      series: [...panel(daily, 0, 1, 2, 0, 1), ...panel(h4, 3, 4, 5, 2, 3)],
      graphic: { elements: [
        { type: "rect", z: 98, silent: true, shape: { x: 914, y: 0, width: 4, height: 873 }, style: { fill: "#ffffff" } },
        ...ui({
          off: 0, tf: "1D", date: "2035-09-21 00:00:00",
          rows: [["O:", 175], ["H:", 248], ["L:", 320], ["C:", 391], ["V:", 462]],
          ohlc: [["1466.580", 190], ["1478.090", 262], ["1464.294", 333], ["1470.394", 405], ["3.1M", 475]],
          wmaY: 72, fvgY: 99.5, smcY: 127.5, wmaVal: "1340.054", btnY: 142.5, ax: 855, ask: 75, bid: 93.5, bidH: 30,
          wmaTag: 421, timer: "11:31:50", iconX: 795.3, maxTag: [638.7, "1478.090"], minTag: [110, "1203.182", 94.7, 107],
        }),
        ...ui({
          off: 918, tf: "4H", date: "2035-09-21 05:00:00",
          rows: [["O:", 174], ["H:", 247.7], ["L:", 320], ["C:", 390.7], ["V:", 461.7]],
          ohlc: [["1471.328", 190], ["1471.700", 262], ["1470.112", 333], ["1470.394", 405], ["0.0", 475]],
          wmaY: 127.5, fvgY: 71.5, smcY: 99.5, wmaVal: "1309.537", btnY: 142.5, ax: 1773, ask: 59, bid: 76.7, bidH: 30,
          wmaTag: 659.7, timer: "03:31:50", iconX: 1713.3, maxTag: [1476.3, "1471.700"], minTag: [1406.7, "1276.896", 1513, 1526],
        }),
        txt("1489.520", 1777, 1, "#d8dbe0", 12, 500),
        { type: "line", z: 96, silent: true, shape: { x1: 918, y1: 0.5, x2: 1773, y2: 0.5 }, style: { stroke: "#8f949e", lineWidth: 1, lineDash: [10, 12] } },
        seg(1773, 6, 1832, 6, "#dfe2e6", 1),
      ] },
    });
    return () => chart.dispose();
  }, []);
  return <div ref={ref} style={{ position: "fixed", left: 0, top: 0, width: 1832, height: 873, background: BG }} />;
}
